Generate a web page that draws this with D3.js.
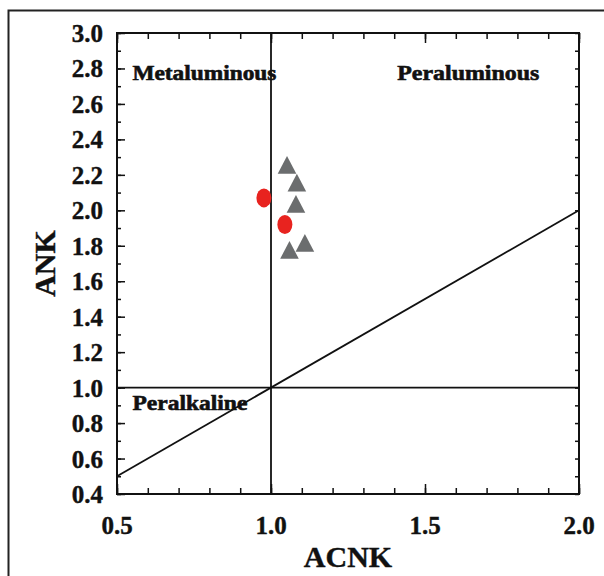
<!DOCTYPE html>
<html>
<head>
<meta charset="utf-8">
<script src="https://cdn.jsdelivr.net/npm/d3@7"></script>
<style>
body { margin: 0; background: #fff; }
text { font-family: "Liberation Serif", "Times New Roman", serif; font-weight: bold; fill: #111; }
</style>
</head>
<body>
<script>
// data
var xTicks = [0.5, 1.0, 1.5, 2.0];
var yTicks = [0.4, 0.6, 0.8, 1.0, 1.2, 1.4, 1.6, 1.8, 2.0, 2.2, 2.4, 2.6, 2.8, 3.0];
var circleX = [0.977, 1.045];
var circleY = [2.07, 1.92];
var triX = [1.052, 1.084, 1.081, 1.11, 1.06];
var triY = [2.24, 2.14, 2.02, 1.80, 1.76];
var regionNames = ["Metaluminous", "Peraluminous", "Peralkaline"];
var regionX = [0.55, 1.41, 0.55];
var regionY = [2.775, 2.775, 0.915];
var regionLen = [144, 142, 115];

var W = 604, H = 576;
var svg = d3.select("body").append("svg").attr("width", W).attr("height", H);

// outer frame, runs off the right and bottom
svg.append("rect").attr("x", 8.5).attr("y", 10.5).attr("width", 700).attr("height", 700)
	.attr("fill", "none").attr("stroke", "#222").attr("stroke-width", 2);

var x = d3.scaleLinear().domain([0.5, 2.0]).range([117, 579]);
var y = d3.scaleLinear().domain([0.4, 3.0]).range([494, 33]);

var g = svg.append("g");

// ticks, drawn inside the box
var xMinor = d3.range(0.5, 2.001, 0.1);
var yMinor = d3.range(0.4, 3.001, 0.1);
g.append("g").attr("transform", "translate(0," + y(0.4) + ")")
	.call(d3.axisTop(x).tickValues(xMinor).tickSize(6).tickFormat(""));
g.append("g").attr("transform", "translate(0," + y(3.0) + ")")
	.call(d3.axisBottom(x).tickValues(xMinor).tickSize(6).tickFormat(""));
g.append("g").attr("transform", "translate(0," + y(0.4) + ")")
	.call(d3.axisTop(x).tickValues(xTicks).tickSize(10).tickFormat(""));
g.append("g").attr("transform", "translate(0," + y(3.0) + ")")
	.call(d3.axisBottom(x).tickValues(xTicks).tickSize(10).tickFormat(""));
g.append("g").attr("transform", "translate(" + x(0.5) + ",0)")
	.call(d3.axisRight(y).tickValues(yMinor).tickSize(4).tickFormat(""));
g.append("g").attr("transform", "translate(" + x(0.5) + ",0)")
	.call(d3.axisRight(y).tickValues(yTicks).tickSize(8).tickFormat(""));
g.append("g").attr("transform", "translate(" + x(2.0) + ",0)")
	.call(d3.axisLeft(y).tickValues(yMinor).tickSize(4).tickFormat(""));
g.selectAll(".domain").remove();
g.selectAll(".tick line").attr("stroke", "#111").attr("stroke-width", 1.5);

// box
g.append("rect").attr("x", x(0.5)).attr("y", y(3.0))
	.attr("width", x(2.0) - x(0.5)).attr("height", y(0.4) - y(3.0))
	.attr("fill", "none").attr("stroke", "#111").attr("stroke-width", 2);

// tick labels
g.selectAll(".ylab").data(yTicks).enter().append("text")
	.attr("x", 103).attr("y", function(d) { return y(d); })
	.attr("dy", "0.36em").attr("text-anchor", "end")
	.attr("font-size", 25).attr("stroke", "#111").attr("stroke-width", 0.4)
	.text(function(d) { return d.toFixed(1); });
g.selectAll(".xlab").data(xTicks).enter().append("text")
	.attr("x", function(d) { return x(d); }).attr("y", 534)
	.attr("text-anchor", "middle")
	.attr("font-size", 25).attr("stroke", "#111").attr("stroke-width", 0.4)
	.text(function(d) { return d.toFixed(1); });

// axis titles
svg.append("text").attr("x", x(1.25)).attr("y", 567).attr("text-anchor", "middle")
	.attr("font-size", 30).attr("stroke", "#111").attr("stroke-width", 0.4).text("ACNK");
svg.append("text").attr("transform", "translate(55," + y(1.7) + ") rotate(-90)")
	.attr("text-anchor", "middle").attr("font-size", 30)
	.attr("stroke", "#111").attr("stroke-width", 0.4).text("ANK");

// boundary lines
var line = d3.line().x(function(d) { return x(d[0]); }).y(function(d) { return y(d[1]); });
var lines = [[[1.0, 0.4], [1.0, 3.0]], [[0.5, 1.0], [2.0, 1.0]], [[0.5, 0.5], [2.0, 2.0]]];
g.selectAll(".bound").data(lines).enter().append("path")
	.attr("d", line).attr("fill", "none").attr("stroke", "#111").attr("stroke-width", 1.8);

// region names
g.selectAll(".region").data(regionNames).enter().append("text")
	.attr("x", function(d, i) { return x(regionX[i]); })
	.attr("y", function(d, i) { return y(regionY[i]); })
	.attr("dy", "0.35em").attr("font-size", 21)
	.attr("textLength", function(d, i) { return regionLen[i]; })
	.attr("lengthAdjust", "spacingAndGlyphs")
	.attr("stroke", "#111").attr("stroke-width", 0.6)
	.text(function(d) { return d; });

// samples
g.selectAll(".dot").data(circleX).enter().append("ellipse")
	.attr("cx", function(d) { return x(d); })
	.attr("cy", function(d, i) { return y(circleY[i]); })
	.attr("rx", 7.5).attr("ry", 9.5).attr("fill", "#e8231f");
var tri = d3.symbol().type(d3.symbolTriangle).size(150);
g.selectAll(".tri").data(triX).enter().append("path")
	.attr("d", tri)
	.attr("transform", function(d, i) { return "translate(" + x(d) + "," + y(triY[i]) + ") scale(1,1.1)"; })
	.attr("fill", "#6b6d6e");
</script>
</body>
</html>
